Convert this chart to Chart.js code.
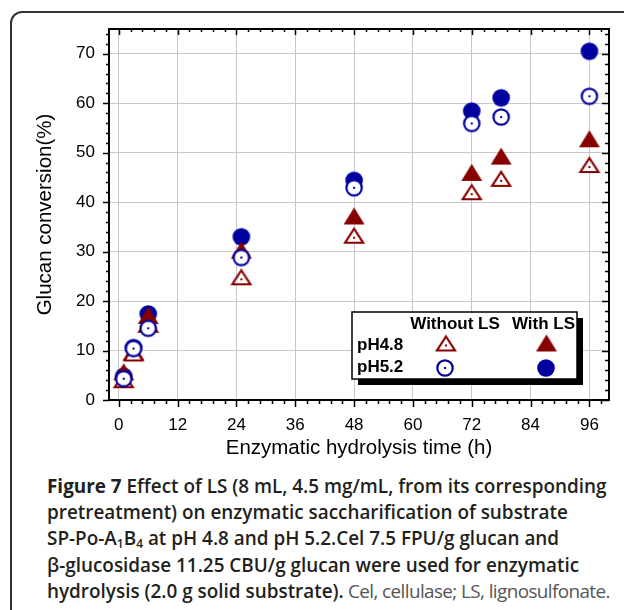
<!DOCTYPE html>
<html>
<head>
<meta charset="utf-8">
<script src="https://cdn.jsdelivr.net/npm/chart.js@4.4.0/dist/chart.umd.min.js"></script>
<style>
  body { margin: 0; width: 624px; height: 610px; overflow: hidden; background: #fff; position: relative; }
  #frame { position: absolute; left: 10px; top: 11px; width: 700px; height: 700px; border: 2px solid #333; border-radius: 12px; }
  #chart { position: absolute; left: 0; top: 0; }
  #caption { position: absolute; left: 47px; top: 473px; font-family: "Open Sans", sans-serif; font-size: 18.9px; line-height: 26.2px; color: #231f20; white-space: nowrap; font-weight: 600; }
  #caption .fig { font-weight: 700; }
  #caption .plain { font-weight: 400; color: #555; letter-spacing: -0.6px; }
  #caption sub { font-size: 12px; line-height: 0; vertical-align: -3px; }
</style>
</head>
<body>
<div id="frame"></div>
<canvas id="chart" width="624" height="470"></canvas>
<div id="caption">
  <span class="fig">Figure 7</span> Effect of LS (8 mL, 4.5 mg/mL, from its corresponding<br>
  pretreatment) on enzymatic saccharification of substrate<br>
  SP-Po-A<sub>1</sub>B<sub>4</sub> at pH 4.8 and pH 5.2.Cel 7.5 FPU/g glucan and<br>
  β-glucosidase 11.25 CBU/g glucan were used for enzymatic<br>
  hydrolysis (2.0 g solid substrate).<span class="plain"> Cel, cellulase; LS, lignosulfonate.</span>
</div>
<script>
// hydrolysis time (h)
const hours = [1, 3, 6, 25, 48, 72, 78, 96]
// glucan conversion (%)
const ph48Without = [3.6, 9.0, 14.8, 24.4, 32.8, 41.6, 44.3, 47.1]
const ph48With = [5.2, 9.3, 16.6, 29.8, 36.7, 45.5, 48.8, 52.3]
const ph52Without = [4.3, 10.4, 14.5, 28.8, 42.9, 55.9, 57.2, 61.4]
const ph52With = [4.8, 10.6, 17.4, 33.0, 44.4, 58.4, 61.1, 70.5]

const xTicks = [0, 12, 24, 36, 48, 60, 72, 84, 96]
const yTicks = [0, 10, 20, 30, 40, 50, 60, 70]
const legendRows = ["pH4.8", "pH5.2"]
const legendCols = ["Without LS", "With LS"]

const RED = "#870000"
const BLUE = "#00009f"
const FONT = "'Liberation Sans', Arial, sans-serif"

function makeMarker(shape, filled, color) {
  const c = document.createElement("canvas")
  c.width = 24
  c.height = 24
  const g = c.getContext("2d")
  g.fillStyle = filled ? color : "#fff"
  g.strokeStyle = color
  g.lineWidth = 2.2
  g.beginPath()
  if (shape === "triangle") {
    if (filled) { g.moveTo(12, 1); g.lineTo(22.5, 18); g.lineTo(1.5, 18) }
    else { g.moveTo(12, 3); g.lineTo(21, 17); g.lineTo(3, 17) }
  } else {
    g.arc(12, 12, filled ? 8.8 : 7.7, 0, Math.PI * 2)
  }
  g.closePath()
  g.fill()
  if (!filled) {
    g.stroke()
    g.fillStyle = color
    g.fillRect(11, 11, 2, 2)
  }
  return c
}

const openTri = makeMarker("triangle", false, RED)
const fullTri = makeMarker("triangle", true, RED)
const openDot = makeMarker("circle", false, BLUE)
const fullDot = makeMarker("circle", true, BLUE)

function series(label, values, marker) {
  return {
    label: label,
    data: hours.map((h, i) => ({ x: h, y: values[i] })),
    pointStyle: marker,
    pointRadius: 10,
    showLine: false
  }
}

// legend box, axis frame and tick marks
const plotFrame = {
  id: "plotFrame",
  afterDraw(chart) {
    const { ctx, chartArea: a, scales: { x, y } } = chart
    ctx.save()

    const bx = a.right - 257, by = a.bottom - 88, bw = 225, bh = 67
    ctx.fillStyle = "#000"
    ctx.fillRect(bx + 6, by + 6, bw, bh)
    ctx.fillStyle = "#fff"
    ctx.fillRect(bx, by, bw, bh)
    ctx.strokeStyle = "#000"
    ctx.lineWidth = 1.5
    ctx.strokeRect(bx, by, bw, bh)

    ctx.fillStyle = "#000"
    ctx.font = "bold 17px " + FONT
    ctx.textBaseline = "middle"
    ctx.textAlign = "center"
    ctx.fillText(legendCols[0], bx + 103, by + 12)
    ctx.fillText(legendCols[1], bx + 191.5, by + 12)
    ctx.textAlign = "left"
    ctx.fillText(legendRows[0], bx + 5, by + 33)
    ctx.fillText(legendRows[1], bx + 5, by + 55)
    ctx.drawImage(openTri, bx + 94 - 12, by + 33.5 - 12)
    ctx.drawImage(fullTri, bx + 194.5 - 12, by + 33.5 - 12)
    ctx.drawImage(openDot, bx + 93 - 12, by + 56 - 12)
    ctx.drawImage(fullDot, bx + 194 - 12, by + 56 - 12)

    ctx.strokeStyle = "#000"
    ctx.lineWidth = 1.5
    ctx.beginPath()
    for (let i = 0; i * 2.4 <= x.max; i++) {
      const px = Math.round(x.getPixelForValue(i * 2.4)) + 0.5
      const major = i % 5 === 0
      ctx.moveTo(px, a.bottom)
      ctx.lineTo(px, a.bottom + (major ? 7 : 4))
      ctx.moveTo(px, a.top)
      ctx.lineTo(px, a.top + (major ? 6 : 3))
    }
    for (let i = 0; i * 2 <= y.max; i++) {
      const py = Math.round(y.getPixelForValue(i * 2)) + 0.5
      const major = i % 5 === 0
      ctx.moveTo(a.left - (major ? 6 : 3), py)
      ctx.lineTo(a.left, py)
      ctx.moveTo(a.right - (major ? 7 : 4), py)
      ctx.lineTo(a.right, py)
    }
    ctx.stroke()

    ctx.lineWidth = 2
    ctx.strokeRect(a.left, a.top, a.right - a.left, a.bottom - a.top)
    ctx.restore()
  }
}

const ctx = document.getElementById("chart").getContext("2d")
const myChart = new Chart(ctx, {
  type: "scatter",
  data: {
    datasets: [
      series("pH5.2 without LS", ph52Without, openDot),
      series("pH4.8 without LS", ph48Without, openTri),
      series("pH4.8 with LS", ph48With, fullTri),
      series("pH5.2 with LS", ph52With, fullDot)
    ]
  },
  options: {
    responsive: false,
    animation: false,
    events: [],
    layout: { padding: { top: 29, right: 15, left: 0, bottom: 0 } },
    plugins: {
      legend: { display: false },
      tooltip: { enabled: false }
    },
    scales: {
      x: {
        type: "linear",
        min: -2,
        max: 100,
        afterBuildTicks: s => { s.ticks = xTicks.map(v => ({ value: v })) },
        afterFit: s => { s.height = 70 },
        grid: { color: "#c8c8c8", lineWidth: 1, drawTicks: false },
        border: { display: false },
        ticks: {
          color: "#000",
          font: { family: FONT, size: 17, lineHeight: 1.2 },
          padding: 15,
          maxRotation: 0,
          autoSkip: false
        },
        title: {
          display: true,
          text: "Enzymatic hydrolysis time (h)",
          color: "#000",
          font: { family: FONT, size: 20.5, lineHeight: 1.2 },
          padding: { top: 0, bottom: 9 }
        }
      },
      y: {
        type: "linear",
        min: 0,
        max: 75,
        afterBuildTicks: s => { s.ticks = yTicks.map(v => ({ value: v })) },
        afterFit: s => { s.width = 109 },
        grid: { color: "#c8c8c8", lineWidth: 1, drawTicks: false },
        border: { display: false },
        ticks: {
          color: "#000",
          font: { family: FONT, size: 17, lineHeight: 1.2 },
          padding: 14,
          autoSkip: false
        },
        title: {
          display: true,
          text: "Glucan conversion(%)",
          color: "#000",
          font: { family: FONT, size: 20.5, lineHeight: 1.2 },
          padding: { top: 33, bottom: 0 }
        }
      }
    }
  },
  plugins: [plotFrame]
})
</script>
</body>
</html>
